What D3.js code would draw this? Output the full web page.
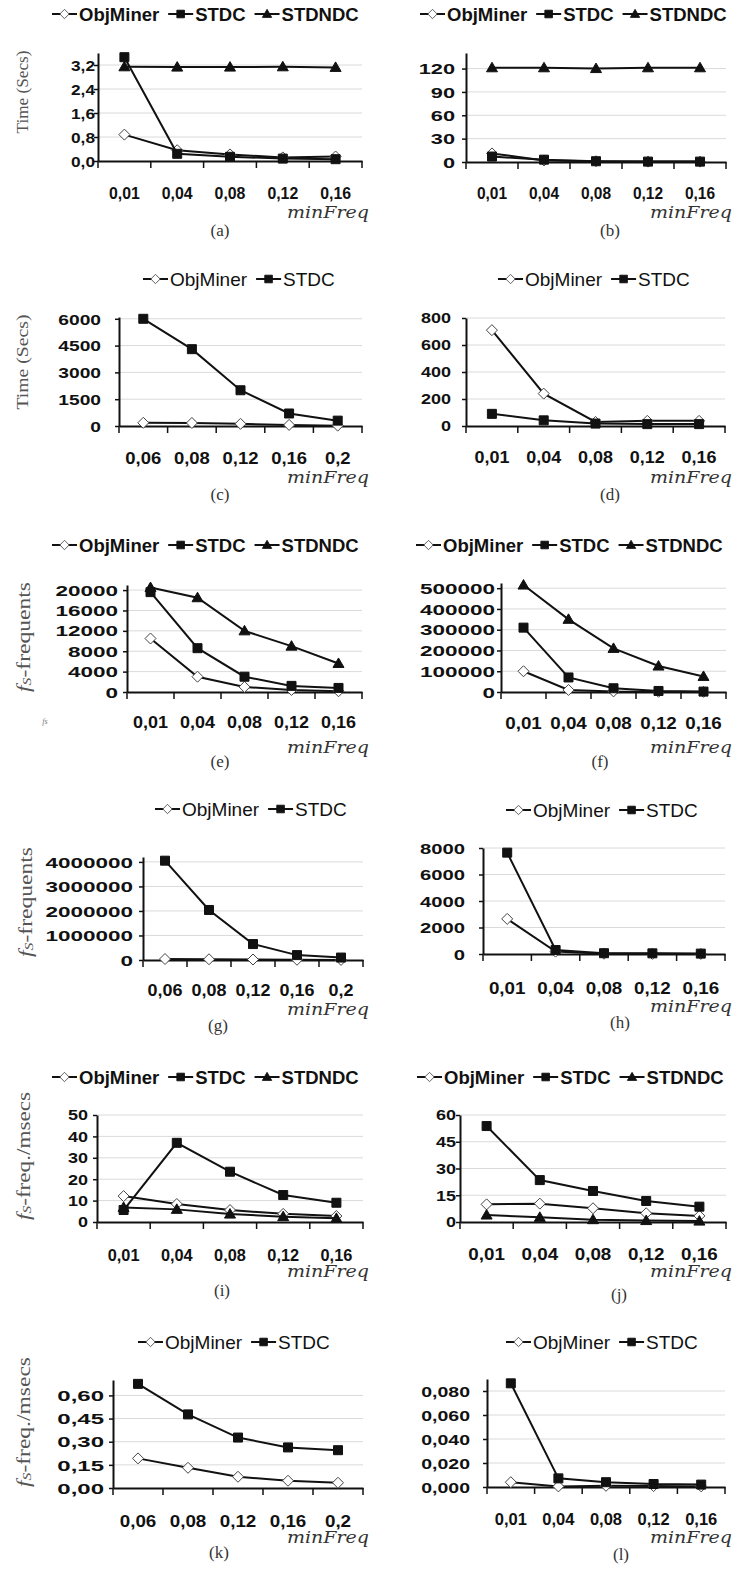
<!DOCTYPE html>
<html>
<head>
<meta charset="utf-8">
<script src="https://cdnjs.cloudflare.com/ajax/libs/d3/7.8.5/d3.min.js"></script>
<style>
body { margin: 0; background: #fff; }
svg { display: block; }
</style>
</head>
<body>
<div id="chart"></div>
<script>
// ---- data ----
var seriesNames = ['ObjMiner', 'STDC', 'STDNDC'];
var freqLow  = ['0,01', '0,04', '0,08', '0,12', '0,16'];
var freqHigh = ['0,06', '0,08', '0,12', '0,16', '0,2'];

// (a) time, secs
var a_obj    = [0.88, 0.36, 0.22, 0.12, 0.15];
var a_stdc   = [3.46, 0.24, 0.14, 0.08, 0.06];
var a_stdndc = [3.14, 3.13, 3.13, 3.14, 3.12];
var a_ticks  = [0, 0.8, 1.6, 2.4, 3.2];
// (b)
var b_obj    = [11, 2, 1, 0.5, 0.5];
var b_stdc   = [7, 3, 1, 0.5, 0.5];
var b_stdndc = [121, 121, 120, 121, 121];
var b_ticks  = [0, 30, 60, 90, 120];
// (c)
var c_obj    = [180, 170, 120, 60, 20];
var c_stdc   = [6000, 4300, 2000, 700, 300];
var c_ticks  = [0, 1500, 3000, 4500, 6000];
// (d)
var d_obj    = [710, 240, 30, 38, 38];
var d_stdc   = [90, 42, 18, 14, 14];
var d_ticks  = [0, 200, 400, 600, 800];
// (e) fs-frequents
var e_obj    = [10500, 3000, 1000, 400, 150];
var e_stdc   = [19600, 8600, 3000, 1200, 800];
var e_stdndc = [20500, 18500, 12000, 9000, 5600];
var e_ticks  = [0, 4000, 8000, 12000, 16000, 20000];
// (f)
var f_obj    = [100000, 10000, 3000, 1000, 500];
var f_stdc   = [310000, 70000, 18000, 5000, 2000];
var f_stdndc = [515000, 350000, 210000, 125000, 75000];
var f_ticks  = [0, 100000, 200000, 300000, 400000, 500000];
// (g)
var g_obj    = [40000, 30000, 20000, 10000, 5000];
var g_stdc   = [4050000, 2040000, 650000, 200000, 100000];
var g_ticks  = [0, 1000000, 2000000, 3000000, 4000000];
// (h)
var h_obj    = [2650, 180, 20, 10, 5];
var h_stdc   = [7650, 300, 60, 50, 30];
var h_ticks  = [0, 2000, 4000, 6000, 8000];
// (i) fs-freq./msecs
var i_obj    = [12.1, 8.4, 5.6, 3.8, 2.8];
var i_stdc   = [5.6, 37, 23.5, 12.6, 9];
var i_stdndc = [6.8, 5.9, 3.7, 2.5, 1.7];
var i_ticks  = [0, 10, 20, 30, 40, 50];
// (j)
var j_obj    = [9.9, 10.3, 7.7, 4.9, 3.4];
var j_stdc   = [53.8, 23.5, 17.4, 11.8, 8.6];
var j_stdndc = [3.9, 2.6, 1.3, 0.8, 0.5];
var j_ticks  = [0, 15, 30, 45, 60];
// (k)
var k_obj    = [0.192, 0.131, 0.073, 0.047, 0.034];
var k_stdc   = [0.675, 0.477, 0.327, 0.263, 0.245];
var k_ticks  = [0, 0.15, 0.30, 0.45, 0.60];
// (l)
var l_obj    = [0.004, 0.0005, 0.001, 0.0008, 0.0005];
var l_stdc   = [0.0864, 0.0072, 0.004, 0.0025, 0.002];
var l_ticks  = [0, 0.02, 0.04, 0.06, 0.08];

// ---- layout of the 12 panels ----
var timeTitle = [{t: 'Time (Secs)'}];
var freqTitle = [{t: 'f', it: true}, {t: 'S', it: true, sub: true}, {t: '-frequents'}];
var rateTitle = [{t: 'f', it: true}, {t: 'S', it: true, sub: true}, {t: '-freq./msecs'}];

var panels = [
  {cap: '(a)', cats: freqLow, series: [a_obj, a_stdc, a_stdndc], ticks: a_ticks, fmt: '.1f', max: 3.6,
   x0: 98, x1: 362, y0: 161, yTop: 53, labR: 95, ysx: 1.15, xsx: 0.96, xlabY: 193,
   legX: 52, legY: 14, mfY: 218, capX: 220, capY: 236, title: timeTitle, tx: 22, tcy: 92, tlen: 83},
  {cap: '(b)', cats: freqLow, series: [b_obj, b_stdc, b_stdndc], ticks: b_ticks, fmt: 'd', max: 140,
   x0: 466, x1: 726, y0: 162, yTop: 53, labR: 455, ysx: 1.45, xsx: 0.94, xlabY: 193,
   legX: 420, legY: 14, mfY: 218, capX: 610, capY: 236},
  {cap: '(c)', cats: freqHigh, series: [c_obj, c_stdc], ticks: c_ticks, fmt: 'd', max: 6100,
   x0: 119, x1: 362, y0: 426, yTop: 317, labR: 101, ysx: 1.28, xsx: 1.12, xlabY: 458,
   legX: 143, legY: 279, mfY: 483, capX: 220, capY: 500, title: timeTitle, tx: 22, tcy: 362, tlen: 95},
  {cap: '(d)', cats: freqLow, series: [d_obj, d_stdc], ticks: d_ticks, fmt: 'd', max: 800,
   x0: 466, x1: 725, y0: 426, yTop: 318, labR: 451, ysx: 1.2, xsx: 1.09, xlabY: 457,
   legX: 498, legY: 279, mfY: 483, capX: 610, capY: 500},
  {cap: '(e)', cats: freqLow, series: [e_obj, e_stdc, e_stdndc], ticks: e_ticks, fmt: 'd', max: 21000,
   x0: 127, x1: 362, y0: 692, yTop: 585, labR: 118, ysx: 1.5, xsx: 1.09, xlabY: 722,
   legX: 52, legY: 545, mfY: 753, capX: 220, capY: 767, title: freqTitle, tx: 24, tcy: 637, tlen: 110},
  {cap: '(f)', cats: freqLow, series: [f_obj, f_stdc, f_stdndc], ticks: f_ticks, fmt: 'd', max: 525000,
   x0: 501, x1: 726, y0: 692, yTop: 583, labR: 495, ysx: 1.5, xsx: 1.14, xlabY: 723,
   legX: 416, legY: 545, mfY: 753, capX: 600, capY: 767},
  {cap: '(g)', cats: freqHigh, series: [g_obj, g_stdc], ticks: g_ticks, fmt: 'd', max: 4200000,
   x0: 143, x1: 363, y0: 960, yTop: 857, labR: 133, ysx: 1.5, xsx: 1.09, xlabY: 990,
   legX: 155, legY: 809, mfY: 1015, capX: 218, capY: 1031, title: freqTitle, tx: 26, tcy: 902, tlen: 110},
  {cap: '(h)', cats: freqLow, series: [h_obj, h_stdc], ticks: h_ticks, fmt: 'd', max: 8000,
   x0: 483, x1: 725, y0: 954, yTop: 848, labR: 465, ysx: 1.35, xsx: 1.14, xlabY: 988,
   legX: 506, legY: 810, mfY: 1012, capX: 620, capY: 1028},
  {cap: '(i)', cats: freqLow, series: [i_obj, i_stdc, i_stdndc], ticks: i_ticks, fmt: 'd', max: 50,
   x0: 97, x1: 363, y0: 1222, yTop: 1115, labR: 88, ysx: 1.2, xsx: 0.99, xlabY: 1255,
   legX: 52, legY: 1077, mfY: 1277, capX: 222, capY: 1296, title: rateTitle, tx: 24, tcy: 1156, tlen: 128},
  {cap: '(j)', cats: freqLow, series: [j_obj, j_stdc, j_stdndc], ticks: j_ticks, fmt: 'd', max: 60,
   x0: 460, x1: 726, y0: 1222, yTop: 1115, labR: 456, ysx: 1.2, xsx: 1.14, xlabY: 1254,
   legX: 417, legY: 1077, mfY: 1277, capX: 619, capY: 1300},
  {cap: '(k)', cats: freqHigh, series: [k_obj, k_stdc], ticks: k_ticks, fmt: '.2f', max: 0.7,
   x0: 113, x1: 363, y0: 1488, yTop: 1380, labR: 104, ysx: 1.6, xsx: 1.14, xlabY: 1521,
   legX: 138, legY: 1342, mfY: 1543, capX: 219, capY: 1558, title: rateTitle, tx: 24, tcy: 1422, tlen: 130},
  {cap: '(l)', cats: freqLow, series: [l_obj, l_stdc], ticks: l_ticks, fmt: '.3f', max: 0.09,
   x0: 487, x1: 725, y0: 1487, yTop: 1379, labR: 470, ysx: 1.3, xsx: 1.0, xlabY: 1519,
   legX: 506, legY: 1342, mfY: 1543, capX: 621, capY: 1560}
];

var width = 736, height = 1570;
var sans = '"Liberation Sans", Arial, sans-serif';
var serif = '"Liberation Serif", "Times New Roman", serif';
var ink = '#111';

var svg = d3.select('#chart')
    .append('svg')
    .attr('width', width)
    .attr('height', height);

var loc = d3.formatLocale({decimal: ',', thousands: '.', grouping: [3], currency: ['', '']});

var markers = {
    diamond: 'M0,-5.5L5.5,0L0,5.5L-5.5,0Z',
    square: 'M-4.5,-4.5H4.5V4.5H-4.5Z',
    triangle: 'M0,-5.5L5.5,4L-5.5,4Z'
};
var styles = [
    {shape: 'diamond', fill: '#fff', stroke: '#444'},
    {shape: 'square', fill: ink, stroke: ink},
    {shape: 'triangle', fill: ink, stroke: ink}
];

function drawPanel(p) {
    var g = svg.append('g').attr('class', 'panel');

    var x = d3.scaleBand().domain(p.cats).range([p.x0, p.x1]);
    var y = d3.scaleLinear().domain([0, p.max]).range([p.y0, p.yTop]);
    var cx = function (i) { return x(p.cats[i]) + x.bandwidth() / 2; };

    // light gridlines
    g.selectAll('line.grid')
        .data(p.ticks.filter(function (t) { return t > 0; }))
        .enter()
        .append('line')
        .attr('class', 'grid')
        .attr('x1', p.x0).attr('x2', p.x1)
        .attr('y1', function (d) { return y(d); })
        .attr('y2', function (d) { return y(d); })
        .attr('stroke', '#dadada')
        .attr('stroke-width', 1);

    // y axis
    var ya = g.append('g')
        .attr('transform', 'translate(' + p.x0 + ',0)')
        .call(d3.axisLeft(y).tickValues(p.ticks).tickSize(4).tickSizeOuter(0).tickFormat(loc.format(p.fmt)));
    ya.select('.domain').attr('stroke', ink).attr('stroke-width', 2);
    ya.selectAll('.tick line').attr('stroke', ink).attr('stroke-width', 1.5);
    ya.selectAll('.tick text')
        .attr('x', 0).attr('dy', null)
        .attr('text-anchor', 'end')
        .attr('dominant-baseline', 'central')
        .attr('transform', 'translate(' + (p.labR - p.x0) + ',0) scale(' + p.ysx + ',1)')
        .attr('fill', ink)
        .style('font', 'bold 15px ' + sans);

    // x axis, labels at band centres, ticks between categories
    var xa = g.append('g')
        .attr('transform', 'translate(0,' + p.y0 + ')')
        .call(d3.axisBottom(x).tickSize(0).tickSizeOuter(0));
    xa.select('.domain').attr('stroke', ink).attr('stroke-width', 2);
    xa.selectAll('.tick text')
        .attr('y', 0).attr('dy', null)
        .attr('dominant-baseline', 'central')
        .attr('transform', 'translate(0,' + (p.xlabY - p.y0) + ') scale(' + p.xsx + ',1)')
        .attr('fill', ink)
        .style('font', 'bold 16.5px ' + sans);

    g.selectAll('line.xt')
        .data(d3.range(p.cats.length + 1))
        .enter()
        .append('line')
        .attr('class', 'xt')
        .attr('x1', function (i) { return x.range()[0] + i * x.step(); })
        .attr('x2', function (i) { return x.range()[0] + i * x.step(); })
        .attr('y1', p.y0).attr('y2', p.y0 + 7)
        .attr('stroke', ink).attr('stroke-width', 1.5);

    // series
    var line = d3.line()
        .x(function (d, i) { return cx(i); })
        .y(function (d) { return y(d); });

    p.series.forEach(function (vals, si) {
        var st = styles[si];
        g.append('path')
            .datum(vals)
            .attr('d', line)
            .attr('fill', 'none')
            .attr('stroke', ink)
            .attr('stroke-width', 2);
        g.selectAll(null)
            .data(vals)
            .enter()
            .append('path')
            .attr('d', markers[st.shape])
            .attr('transform', function (d, i) { return 'translate(' + cx(i) + ',' + y(d) + ')'; })
            .attr('fill', st.fill)
            .attr('stroke', st.stroke)
            .attr('stroke-width', 1);
    });

    // legend
    var three = p.series.length === 3;
    var lg = g.append('g').attr('transform', 'translate(' + p.legX + ',' + p.legY + ')');
    var pos = 0;
    p.series.forEach(function (vals, si) {
        var st = styles[si];
        lg.append('line')
            .attr('x1', pos).attr('x2', pos + 25)
            .attr('y1', 0).attr('y2', 0)
            .attr('stroke', ink).attr('stroke-width', 2);
        lg.append('path')
            .attr('d', markers[st.shape])
            .attr('transform', 'translate(' + (pos + 12.5) + ',0) scale(0.85)')
            .attr('fill', st.fill).attr('stroke', st.stroke).attr('stroke-width', 1);
        var t = lg.append('text')
            .attr('x', pos + 27)
            .attr('dominant-baseline', 'central')
            .attr('fill', ink)
            .style('font', (three ? 'bold 18.5px ' : '19px ') + sans)
            .text(seriesNames[si]);
        pos += 27 + t.node().getComputedTextLength() + 9;
    });

    // axis title (serif, rotated)
    if (p.title) {
        var plain = p.title.length === 1;
        var tt = g.append('text')
            .attr('transform', 'translate(' + p.tx + ',' + p.tcy + ') rotate(-90)')
            .attr('text-anchor', 'middle')
            .attr('dominant-baseline', 'central')
            .attr('textLength', p.tlen)
            .attr('lengthAdjust', 'spacingAndGlyphs')
            .attr('fill', '#555')
            .style('font', (plain ? '17px ' : '18px ') + serif);
        p.title.forEach(function (part) {
            var ts = tt.append('tspan').text(part.t);
            if (part.it) ts.style('font-style', 'italic');
            if (part.sub) ts.style('font-size', '12px').attr('dy', 3);
            else if (part.t.charAt(0) === '-') ts.attr('dy', -3);
        });
    }

    // minFreq label and caption
    var leftCol = p.x0 < 368;
    g.append('text')
        .attr('x', leftCol ? 287 : 650)
        .attr('y', p.mfY)
        .attr('textLength', 82)
        .attr('lengthAdjust', 'spacingAndGlyphs')
        .attr('fill', '#333')
        .style('font', 'italic 16px "DejaVu Serif", serif')
        .text('minFreq');

    g.append('text')
        .attr('x', p.capX)
        .attr('y', p.capY)
        .attr('text-anchor', 'middle')
        .attr('fill', '#333')
        .style('font', '17px ' + serif)
        .text(p.cap);
}

panels.forEach(drawPanel);

// small stray subscript left of panel (e)
svg.append('text')
    .attr('x', 45).attr('y', 724)
    .attr('text-anchor', 'middle')
    .attr('fill', '#777')
    .style('font', 'italic 8px ' + serif)
    .text('fs');
</script>
</body>
</html>
